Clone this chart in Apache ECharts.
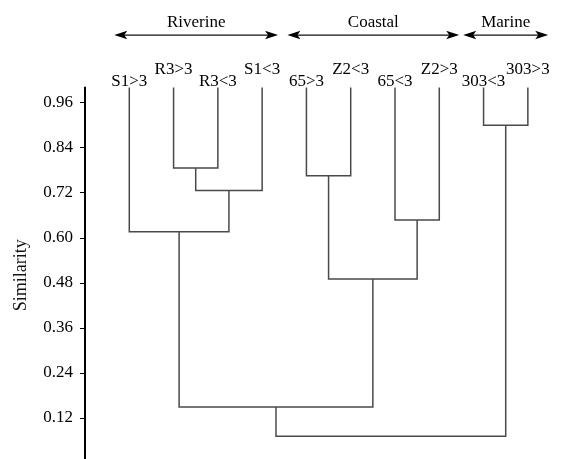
<!DOCTYPE html>
<html>
<head>
<meta charset="utf-8">
<script src="https://cdn.jsdelivr.net/npm/echarts@6/dist/echarts.min.js"></script>
<style>html,body{margin:0;padding:0;background:#fff}#c{width:562px;height:459px}</style>
</head>
<body>
<div id="c"></div>
<script>
// ---- data ----
const leaves = ['S1>3', 'R3>3', 'R3<3', 'S1<3', '65>3', 'Z2<3', '65<3', 'Z2>3', '303<3', '303>3'];
// merges: node ids 0..9 are leaves, 10.. are clusters in order of this list
const mergeLeft   = [1, 10, 0, 4, 6, 13, 12, 8, 16];
const mergeRight  = [2, 3, 11, 5, 7, 14, 15, 9, 17];
const mergeHeight = [0.786, 0.726, 0.616, 0.765, 0.647, 0.490, 0.149, 0.900, 0.071];
const yTicks = [0.12, 0.24, 0.36, 0.48, 0.60, 0.72, 0.84, 0.96];
const groupNames = ['Riverine', 'Coastal', 'Marine'];
const groupFrom  = [-0.34, 3.57, 7.54];
const groupTo    = [3.36, 7.45, 9.46];

// ---- build tree coordinates ----
const leafTop = 1.0;
const nodeX = leaves.map((_, i) => i);
const nodeY = leaves.map(() => leafTop);
const links = [];
mergeLeft.forEach((l, k) => {
  const r = mergeRight[k], h = mergeHeight[k];
  links.push([nodeX[l], nodeY[l], nodeX[r], nodeY[r], h]);
  nodeX.push((nodeX[l] + nodeX[r]) / 2);
  nodeY.push(h);
});

const serif = '"Liberation Serif", "DejaVu Serif", serif';
const chart = echarts.init(document.getElementById('c'));
chart.setOption({
  animation: false,
  grid: { left: 85, right: 12, top: 87.6, bottom: -4, containLabel: false, outerBoundsMode: 'none' },
  xAxis: { type: 'value', min: -1, max: 9.5, show: false },
  yAxis: {
    type: 'value', min: 0, max: 1,
    name: 'Similarity', nameLocation: 'middle', nameRotate: 90, nameGap: 55,
    nameTextStyle: { fontFamily: serif, fontSize: 18, color: '#111' },
    axisLine: { show: true, onZero: false, lineStyle: { color: '#000', width: 2 } },
    axisTick: { show: true, length: 5, lineStyle: { color: '#000', width: 1 }, customValues: [0].concat(yTicks) },
    axisLabel: { customValues: yTicks, margin: 12, fontFamily: serif, fontSize: 17, color: '#000',
      formatter: v => v.toFixed(2) },
    splitLine: { show: false }
  },
  series: [
    {
      type: 'custom', clip: false, silent: true,
      data: links,
      encode: { x: [0, 2], y: [1, 3, 4] },
      renderItem: (params, api) => {
        const a = api.coord([api.value(0), api.value(1)]);
        const b = api.coord([api.value(0), api.value(4)]);
        const c = api.coord([api.value(2), api.value(4)]);
        const d = api.coord([api.value(2), api.value(3)]);
        return { type: 'polyline', shape: { points: [a, b, c, d] },
          style: { stroke: '#4a4a4a', lineWidth: 1.5, fill: null } };
      }
    },
    {
      type: 'custom', clip: false, silent: true,
      data: leaves.map((name, i) => [i, leafTop, name]),
      renderItem: (params, api) => {
        const p = api.coord([api.value(0), api.value(1)]);
        const up = params.dataIndex % 2 === 1;
        return { type: 'text', x: p[0], y: p[1] - (up ? 18 : 6),
          style: { text: leaves[params.dataIndex], fontFamily: serif, fontSize: 17, fill: '#000',
            align: 'center', verticalAlign: 'middle' } };
      }
    },
    {
      type: 'custom', clip: false, silent: true,
      data: groupNames.map((n, i) => [groupFrom[i], groupTo[i], 1.14]),
      renderItem: (params, api) => {
        const p0 = api.coord([api.value(0), api.value(2)]);
        const p1 = api.coord([api.value(1), api.value(2)]);
        const y = p0[1], L = 13, W = 4.2, N = 10;
        return { type: 'group', children: [
          { type: 'line', shape: { x1: p0[0] + 8, y1: y, x2: p1[0] - 8, y2: y },
            style: { stroke: '#111', lineWidth: 1.2 } },
          { type: 'polygon', shape: { points: [[p0[0], y], [p0[0] + L, y - W], [p0[0] + N, y], [p0[0] + L, y + W]] },
            style: { fill: '#000' } },
          { type: 'polygon', shape: { points: [[p1[0], y], [p1[0] - L, y - W], [p1[0] - N, y], [p1[0] - L, y + W]] },
            style: { fill: '#000' } },
          { type: 'text', x: (p0[0] + p1[0]) / 2, y: y - 13,
            style: { text: groupNames[params.dataIndex], fontFamily: serif, fontSize: 17, fill: '#000',
              align: 'center', verticalAlign: 'middle' } }
        ] };
      }
    }
  ]
});
</script>
</body>
</html>
